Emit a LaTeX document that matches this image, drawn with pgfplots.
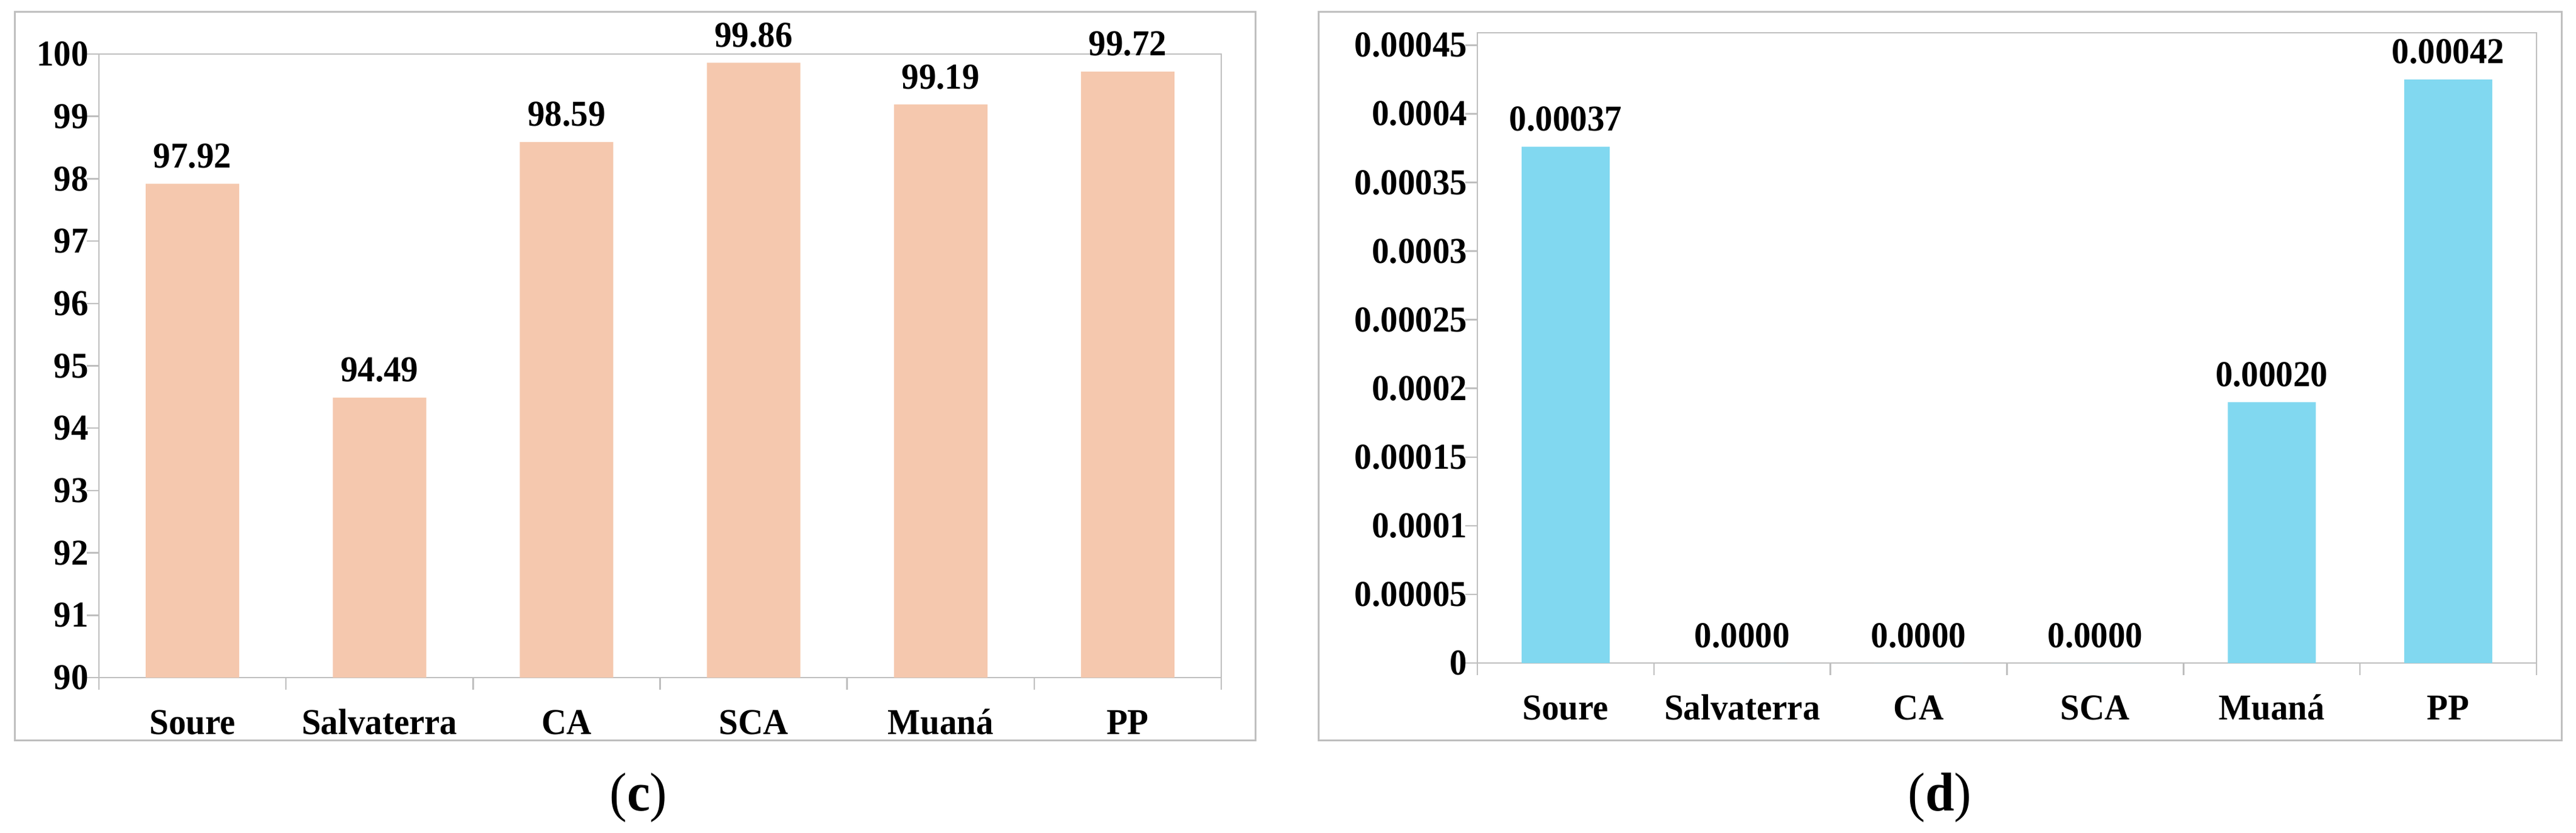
\documentclass[border=0pt]{standalone}
\usepackage{fontspec}
\setmainfont{Liberation Serif}[FakeStretch=0.95]
\usepackage{pgfplots}
\pgfplotsset{compat=1.18}
\usepackage{pgfplotstable}
\definecolor{framegrey}{HTML}{BFBFBF}
\definecolor{peach}{HTML}{F5C8AE}
\definecolor{skyb}{HTML}{81D8F0}

\pgfplotstableread{
x y lab
0 97.92 97.92
1 94.49 94.49
2 98.59 98.59
3 99.86 99.86
4 99.19 99.19
5 99.72 99.72
}\leftdata

\pgfplotstableread{
x y lab
0 0.000376 0.00037
1 0 0.0000
2 0 0.0000
3 0 0.0000
4 0.00019 0.00020
5 0.000425 0.00042
}\rightdata

\pgfplotsset{mybar/.style={
  scale only axis,
  ybar,
  xmin=-0.5, xmax=5.5,
  axis line style={draw=framegrey, line width=0.5pt},
  tick style={draw=framegrey, line width=0.5pt},
  tick align=outside,
  tick pos=left,
  major tick length=4pt, minor tick length=4pt,
  xtick={0,...,5},
  xticklabels={Soure,Salvaterra,CA,SCA,Muaná,PP},
  major x tick style={draw=none},
  minor xtick={-0.5,0.5,...,5.5},
  ticklabel style={font=\fontsize{12}{14}\selectfont\bfseries},
  xticklabel style={anchor=base, yshift=-14.6pt},
  yticklabel style={inner xsep=0.2pt, xshift=1pt},
  scaled y ticks=false,
  nodes near coords,
  point meta=explicit symbolic,
  every node near coord/.append style={anchor=base, yshift=5.2pt, font=\fontsize{12}{14}\selectfont\bfseries, text=black},
}}

\begin{document}
\begin{tikzpicture}
\useasboundingbox (0,0) rectangle (848.8pt,274.2pt);

\begin{axis}[mybar,
  at={(32.6pt,51pt)}, anchor=south west,
  width=369.8pt, height=205.4pt,
  ymin=90, ymax=100,
  ytick={90,91,...,100},
  yticklabels={90,91,92,93,94,95,96,97,98,99,100},
  bar width=30.8pt]
\addplot[fill=peach, draw=none] table[x=x, y=y, meta=lab] {\leftdata};
\end{axis}

\begin{axis}[mybar,
  at={(486.8pt,55.8pt)}, anchor=south west,
  width=349pt, height=207.6pt,
  ymin=0, ymax=0.000459,
  ytick={0,0.00005,0.0001,0.00015,0.0002,0.00025,0.0003,0.00035,0.0004,0.00045},
  yticklabels={0,0.00005,0.0001,0.00015,0.0002,0.00025,0.0003,0.00035,0.0004,0.00045},
  bar width=29pt]
\addplot[fill=skyb, draw=none] table[x=x, y=y, meta=lab] {\rightdata};
\end{axis}

\draw[framegrey, line width=0.6pt] (4.8pt,30.4pt) rectangle (413.6pt,270.4pt);
\draw[framegrey, line width=0.6pt] (434.4pt,30.4pt) rectangle (844pt,270.4pt);

\node[anchor=base, font=\fontsize{18}{20}\selectfont, inner sep=0pt] at (210.4pt,7.2pt) {(\textbf{c})};
\node[anchor=base, font=\fontsize{18}{20}\selectfont, inner sep=0pt] at (639.2pt,7.2pt) {(\textbf{d})};
\end{tikzpicture}
\end{document}
